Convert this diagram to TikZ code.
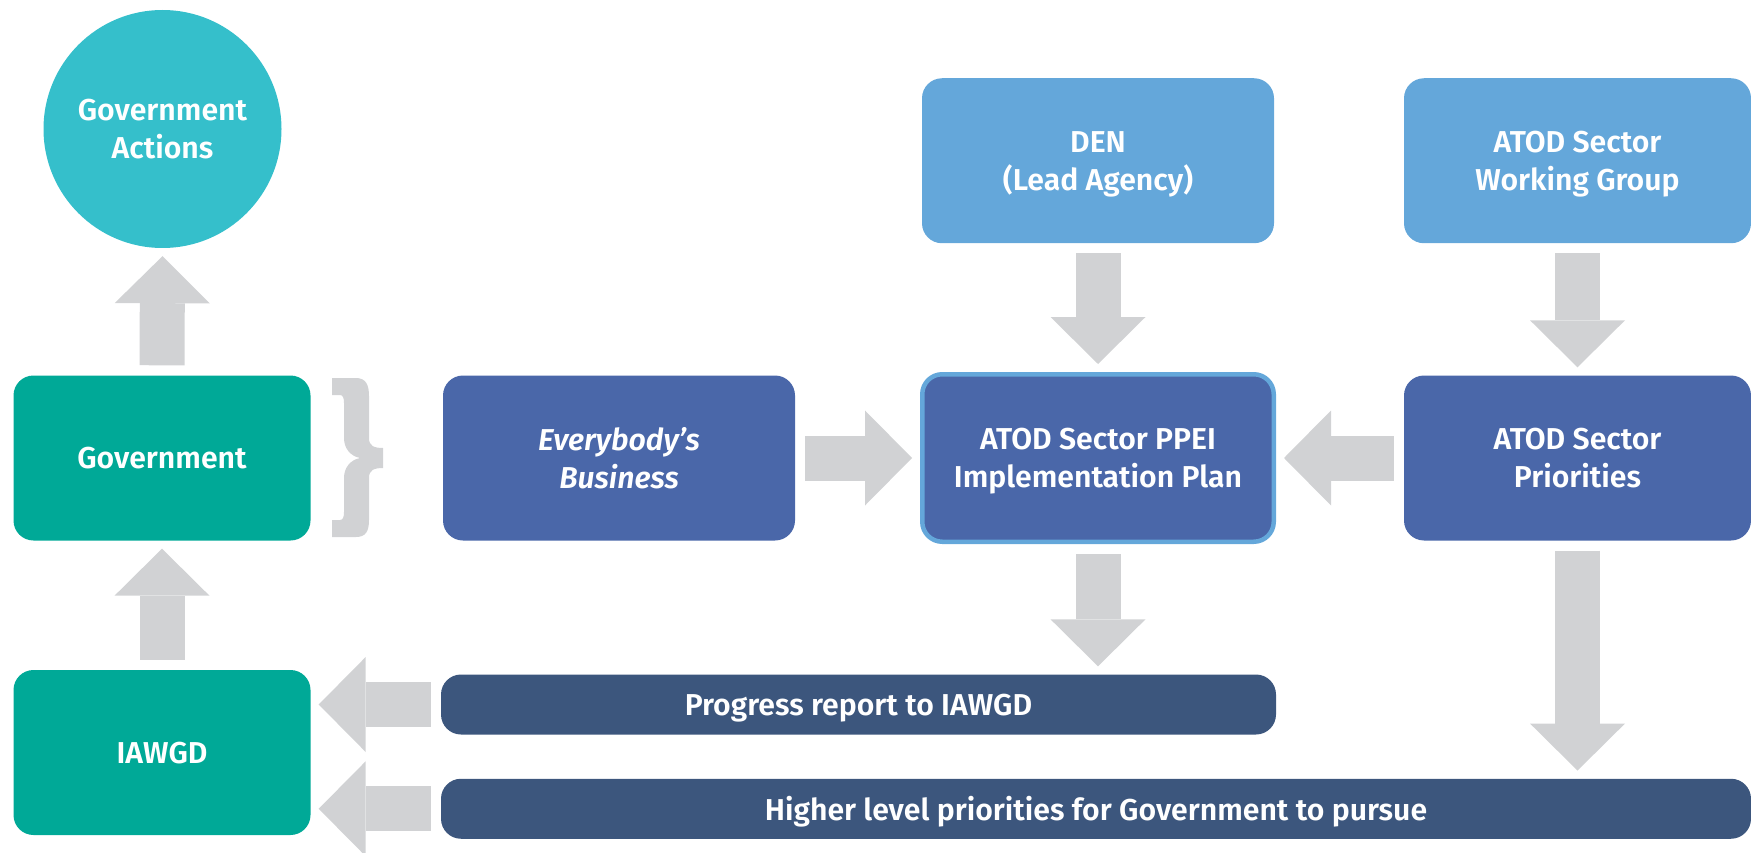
\documentclass[tikz,border=0pt]{standalone}
\usepackage{fontspec}
\setmainfont{Fira Sans}[BoldFont={Fira Sans SemiBold},BoldItalicFont={Fira Sans SemiBold Italic}]
\usetikzlibrary{positioning,arrows.meta}

\definecolor{actioncyan}{HTML}{35BFCB}
\definecolor{govteal}{HTML}{00A997}
\definecolor{lightblue}{HTML}{64A7DA}
\definecolor{midblue}{HTML}{4A67A9}
\definecolor{darkblue}{HTML}{3C567D}
\definecolor{arrowgray}{HTML}{D1D2D4}

\begin{document}
\begin{tikzpicture}[
    x=1pt, y=-1pt,
    box/.style={rounded corners=20pt, inner sep=0pt, align=center, text=white,
      text depth=-5pt, font=\fontsize{30.2}{38}\selectfont\bfseries},
    govbox/.style={box, fill=govteal, minimum width=297pt, minimum height=165pt},
    leadbox/.style={box, fill=lightblue, minimum width=352pt, minimum height=165pt},
    planbox/.style={box, fill=midblue, minimum width=352pt, minimum height=165pt},
    reportbar/.style={box, fill=darkblue, minimum height=60pt},
    bigarrow/.style={draw=arrowgray, line width=45pt,
      -{Triangle[width=95pt,length=47pt,line width=0pt]},
      shorten <=10pt, shorten >=8pt}
    ]

    \useasboundingbox (0,0) rectangle (1751,853);

    % left column:
    \node (actions) at (162.5,129) [box, circle, rounded corners=0pt, fill=actioncyan,
      minimum size=238pt] {Government\\Actions};
    \node (gov) at (162,458) [govbox] {Government};
    \node (iawgd) at (162,752.5) [govbox] {IAWGD};

    % brace:
    \fill[arrowgray] (332,378) -- (356,378) .. controls (366,378) and (369,385) .. (369,396)
      -- (369,438) .. controls (369,446) and (374,448) .. (383,448) -- (383,468)
      .. controls (374,468) and (369,470) .. (369,478) -- (369,520)
      .. controls (369,531) and (366,537) .. (356,537) -- (332,537) -- (332,520)
      -- (340,520) .. controls (343,520) and (344,517) .. (344,512) -- (344,478)
      .. controls (344,468) and (350,460) .. (360,458)
      .. controls (350,456) and (344,448) .. (344,438) -- (344,403)
      .. controls (344,398) and (343,395) .. (340,395) -- (332,395) -- cycle;

    % middle row:
    \node (everybody) at (619,458) [planbox] {\itshape Everybody’s\\\itshape Business};
    \node (plan) at (1098,458) [planbox, draw=lightblue, line width=4.5pt,
      minimum width=351.5pt, minimum height=167.5pt] {ATOD Sector PPEI\\Implementation Plan};
    \node (prio) at (1577.5,458) [planbox, minimum width=347pt] {ATOD Sector\\Priorities};

    % top row:
    \node (den) at (1098,160.75) [leadbox] {DEN\\(Lead Agency)};
    \node (wg) at (1577.5,160.75) [leadbox, minimum width=347pt] {ATOD Sector\\Working Group};

    % report bars:
    \node (progress) at (858.5,704.5) [reportbar, minimum width=835pt] {Progress report to IAWGD};
    \node (higher) at (1096,808.75) [reportbar, minimum width=1310pt]
      {Higher level priorities for Government to pursue};

    % arrows:
    \foreach \from/\to in {gov.north/actions.south, iawgd.north/gov.south,
        everybody.east/plan.west, prio.west/plan.east, den.south/plan.north,
        wg.south/prio.north, plan.south/plan.south |- progress.north,
        prio.south/prio.south |- higher.north,
        progress.west/progress.west -| iawgd.east, higher.west/higher.west -| iawgd.east}
    \draw [bigarrow] (\from) -- (\to);

\end{tikzpicture}
\end{document}
